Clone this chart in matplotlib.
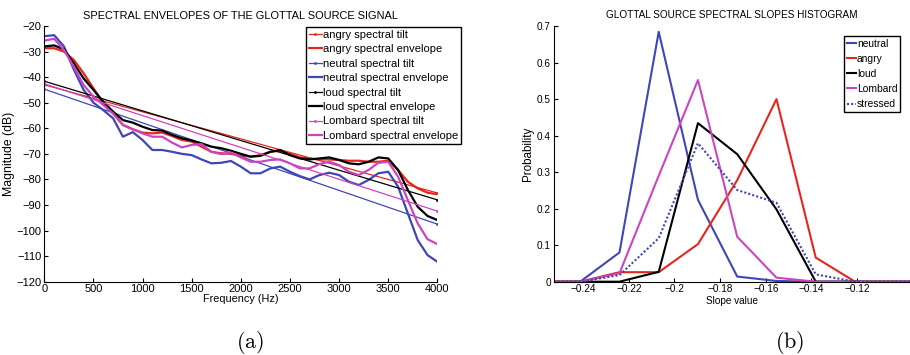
import numpy as np
import matplotlib
matplotlib.use("Agg")
import matplotlib.pyplot as plt

plt.rcParams["font.family"] = ["Liberation Sans", "DejaVu Sans"]
plt.rcParams["mathtext.fontset"] = "cm"

BLUE = "#3f46b8"
RED = "#e6261c"
MAGENTA = "#cc45c0"
BLACK = "#000000"

# ---- (a) spectral envelopes ----
FREQ = np.arange(0, 4001, 100)

NEUTRAL_ENV = [-24.0, -23.6, -28.0, -37.0, -45.0, -50.0, -52.9, -56.1, -63.3, -61.5,
               -64.6, -68.5, -68.5, -69.2, -70.0, -70.5, -72.2, -73.7, -73.5, -72.8,
               -75.0, -77.6, -77.6, -75.7, -75.0, -77.0, -78.7, -80.0, -78.3, -77.4,
               -78.3, -80.9, -82.2, -80.2, -77.6, -77.0, -82.8, -93.3, -103.7, -109.6,
               -112.2]
ANGRY_ENV = [-28.7, -28.7, -30.0, -33.3, -38.5, -44.4, -50.2, -54.2, -58.7, -60.4,
             -61.7, -62.0, -61.7, -63.0, -64.6, -65.2, -67.2, -69.2, -69.8, -70.0,
             -70.8, -71.1, -70.5, -69.2, -68.8, -70.0, -71.4, -71.8, -72.2, -72.2,
             -72.4, -72.7, -72.7, -73.1, -73.1, -72.7, -76.3, -80.9, -83.5, -85.2,
             -85.8]
LOUD_ENV = [-28.0, -27.6, -29.1, -34.6, -40.5, -45.0, -49.6, -53.5, -56.8, -57.8,
            -59.4, -60.7, -60.9, -62.6, -63.9, -64.8, -65.9, -67.2, -67.8, -68.8,
            -70.0, -71.1, -70.8, -69.2, -68.5, -70.5, -71.8, -72.2, -71.8, -71.4,
            -72.4, -73.7, -74.1, -73.1, -71.4, -71.8, -76.3, -84.1, -90.7, -94.3,
            -95.9]
LOMBARD_ENV = [-25.7, -25.0, -29.4, -35.9, -43.1, -47.6, -50.9, -54.2, -58.7, -60.4,
               -62.0, -63.3, -63.3, -65.6, -67.5, -66.5, -66.2, -69.2, -70.1, -69.5,
               -71.4, -73.1, -73.1, -72.4, -72.2, -73.7, -75.7, -75.7, -74.0, -73.1,
               -74.4, -77.0, -78.3, -76.3, -73.5, -73.1, -78.9, -88.1, -97.2, -103.4,
               -105.3]

TILT_FREQ = [0, 4000]
ANGRY_TILT = [-43.0, -85.3]
NEUTRAL_TILT = [-44.7, -97.5]
LOUD_TILT = [-41.6, -88.0]
LOMBARD_TILT = [-42.6, -92.4]

# ---- (b) slope histogram ----
SLOPE_BINS = [-0.2585, -0.2413, -0.2241, -0.2069, -0.1897, -0.1725, -0.1553,
              -0.1381, -0.1209, -0.1037, -0.0865]
NEUTRAL_P = [0, 0, 0.080, 0.684, 0.224, 0.014, 0.002, 0, 0, 0, 0]
ANGRY_P = [0, 0, 0.026, 0.026, 0.103, 0.278, 0.500, 0.066, 0, 0, 0]
LOUD_P = [0, 0, 0, 0.027, 0.434, 0.349, 0.198, 0, 0, 0, 0]
LOMBARD_P = [0, 0, 0.023, 0.290, 0.552, 0.123, 0.011, 0, 0, 0, 0]
STRESSED_P = [0, 0, 0.018, 0.119, 0.379, 0.251, 0.216, 0.020, 0, 0, 0]

SLOPE_TICKS = [-0.24, -0.22, -0.20, -0.18, -0.16, -0.14, -0.12]
SLOPE_LABELS = ["\u22120.24", "\u22120.22", "\u22120.2", "\u22120.18", "\u22120.16",
                "\u22120.14", "\u22120.12"]
PROB_TICKS = [0, 0.1, 0.2, 0.3, 0.4, 0.5, 0.6, 0.7]
PROB_LABELS = ["0", "0.1", "0.2", "0.3", "0.4", "0.5", "0.6", "0.7"]


def style_axes(ax, size):
    for s in ("top", "right"):
        ax.spines[s].set_visible(False)
    for s in ("left", "bottom"):
        ax.spines[s].set_linewidth(0.8)
    ax.tick_params(direction="in", length=3, width=0.8, labelsize=size, pad=2)


fig = plt.figure(figsize=(9.1, 3.55), dpi=100)

ax1 = fig.add_axes([0.0487, 0.2065, 0.4319, 0.7203])
env_lw, tilt_lw = 1.6, 0.9
ax1.plot(TILT_FREQ, ANGRY_TILT, color=RED, lw=tilt_lw, marker=".", ms=2, label="angry spectral tilt")
ax1.plot(FREQ, ANGRY_ENV, color=RED, lw=env_lw, label="angry spectral envelope")
ax1.plot(TILT_FREQ, NEUTRAL_TILT, color=BLUE, lw=tilt_lw, marker=".", ms=2, label="neutral spectral tilt")
ax1.plot(FREQ, NEUTRAL_ENV, color=BLUE, lw=env_lw, label="neutral spectral envelope")
ax1.plot(TILT_FREQ, LOUD_TILT, color=BLACK, lw=tilt_lw, marker=".", ms=2, label="loud spectral tilt")
ax1.plot(FREQ, LOUD_ENV, color=BLACK, lw=env_lw, label="loud spectral envelope")
ax1.plot(TILT_FREQ, LOMBARD_TILT, color=MAGENTA, lw=tilt_lw, marker=".", ms=2, label="Lombard spectral tilt")
ax1.plot(FREQ, LOMBARD_ENV, color=MAGENTA, lw=env_lw, label="Lombard spectral envelope")
ax1.set_xlim(0, 4000)
ax1.set_ylim(-120, -20)
ax1.set_xticks(range(0, 4001, 500))
ax1.set_yticks(range(-120, -19, 10))
style_axes(ax1, 8)
ax1.set_title("SPECTRAL ENVELOPES OF THE GLOTTAL SOURCE SIGNAL", fontsize=7.9, pad=5)
ax1.set_xlabel("Frequency (Hz)", fontsize=7.8, labelpad=0)
ax1.set_ylabel("Magnitude (dB)", fontsize=8.8, labelpad=1)
leg1 = ax1.legend(loc="upper left", bbox_to_anchor=(306 / 910, 1 - 27 / 355),
                  bbox_transform=fig.transFigure, fontsize=8, handlelength=1.15,
                  handletextpad=0.1, borderpad=0.25, labelspacing=0.4,
                  borderaxespad=0, fancybox=False, framealpha=1)
leg1.get_frame().set_edgecolor("black")
leg1.get_frame().set_linewidth(1.0)

ax2 = fig.add_axes([0.6085, 0.2065, 0.3915, 0.7203])
h_lw = 1.5
ax2.plot(SLOPE_BINS, NEUTRAL_P, color=BLUE, lw=h_lw, label="neutral")
ax2.plot(SLOPE_BINS, ANGRY_P, color=RED, lw=h_lw, label="angry")
ax2.plot(SLOPE_BINS, LOUD_P, color=BLACK, lw=h_lw, label="loud")
ax2.plot(SLOPE_BINS, LOMBARD_P, color=MAGENTA, lw=h_lw, label="Lombard")
ax2.plot(SLOPE_BINS, STRESSED_P, color=BLUE, lw=h_lw, ls=(0, (1, 1)), label="stressed")
ax2.set_xlim(-0.2529, -0.0968)
ax2.set_ylim(0, 0.7)
ax2.set_xticks(SLOPE_TICKS)
ax2.set_xticklabels(SLOPE_LABELS)
ax2.set_yticks(PROB_TICKS)
ax2.set_yticklabels(PROB_LABELS)
style_axes(ax2, 7.2)
ax2.set_title("GLOTTAL SOURCE SPECTRAL SLOPES HISTOGRAM", fontsize=7.2, pad=6)
ax2.set_xlabel("Slope value", fontsize=7.2, labelpad=1)
ax2.set_ylabel("Probability", fontsize=8.4, labelpad=2)
leg2 = ax2.legend(loc="upper left", bbox_to_anchor=(844 / 910, 1 - 36 / 355),
                  bbox_transform=fig.transFigure, fontsize=7.4, handlelength=0.9,
                  handletextpad=0.1, borderpad=0.25, labelspacing=0.5,
                  borderaxespad=0, fancybox=False, framealpha=1)
leg2.get_frame().set_edgecolor("black")
leg2.get_frame().set_linewidth(1.0)

fig.text(250 / 910, 1 - 343 / 355, r"$\mathrm{(a)}$", fontsize=16, ha="center", va="center")
fig.text(790 / 910, 1 - 343 / 355, r"$\mathrm{(b)}$", fontsize=16, ha="center", va="center")

fig.savefig("out.png", dpi=100)
